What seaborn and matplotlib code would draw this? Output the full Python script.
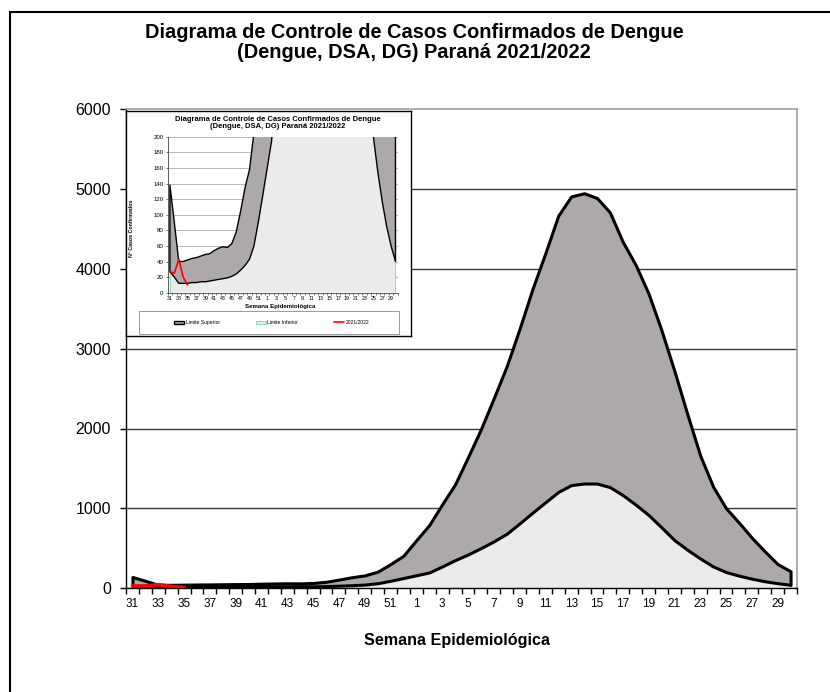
import numpy as np
import pandas as pd
import matplotlib.pyplot as plt
import seaborn as sns
from matplotlib.patches import Rectangle, Patch
from matplotlib.lines import Line2D

# Semanas epidemiologicas (31/2021 a 30/2022)
semanas = list(range(31, 53)) + list(range(1, 31))

limite_superior = [138, 90, 40, 40, 42, 44, 45, 47, 49, 50, 54, 57, 59, 58, 63, 78,
                   105, 135, 158, 205, 300, 405, 600, 790, 1050, 1300, 1640, 1990,
                   2380, 2780, 3250, 3750, 4200, 4670, 4910, 4950, 4890, 4710, 4340,
                   4050, 3690, 3230, 2720, 2180, 1660, 1270, 1000, 820, 630, 460, 300, 210]

limite_inferior = [27, 20, 12, 12, 12, 13, 13, 14, 14, 15, 16, 17, 18, 19, 21, 24,
                   29, 35, 43, 60, 91, 125, 160, 195, 270, 350, 420, 500, 585, 680,
                   810, 945, 1075, 1205, 1290, 1310, 1310, 1265, 1165, 1045, 915, 760,
                   600, 480, 370, 270, 200, 155, 117, 85, 60, 40]

casos_2021_2022 = [27, 25, 43, 20, 10]

titulo = "Diagrama de Controle de Casos Confirmados de Dengue\n(Dengue, DSA, DG) Paraná 2021/2022"

df = pd.DataFrame({'pos': np.arange(len(semanas)), 'semana': semanas,
                   'sup': limite_superior, 'inf': limite_inferior})
df_casos = pd.DataFrame({'pos': np.arange(len(casos_2021_2022)), 'casos': casos_2021_2022})

sns.set_theme(style='white')
plt.rcParams['font.family'] = ['Liberation Sans', 'DejaVu Sans']
plt.rcParams['text.color'] = 'black'
plt.rcParams['xtick.color'] = 'black'
plt.rcParams['ytick.color'] = 'black'
plt.rcParams['axes.labelcolor'] = 'black'

CINZA_ESCURO = '#ADA9A9'
CINZA_CLARO = '#EBEBEB'
VERDE = '#7FD6A6'


def desenha(ax, lw, lw_red):
    ax.fill_between(df['pos'], 0, df['inf'], facecolor=CINZA_CLARO, edgecolor='none',
                    zorder=2)
    # bordas verticais do limite inferior
    extremos = df.iloc[[0, -1]]
    ax.vlines(extremos['pos'], 0, extremos['inf'], color=VERDE, linewidth=lw * 0.6, zorder=2.5)
    ax.fill_between(df['pos'], df['inf'], df['sup'], facecolor=CINZA_ESCURO,
                    edgecolor='black', linewidth=lw, joinstyle='round', zorder=3)
    sns.lineplot(data=df_casos, x='pos', y='casos', color='red', linewidth=lw_red,
                 ax=ax, zorder=4)
    ax.set_xlabel('')
    ax.set_ylabel('')
    ax.set_xlim(-0.5, len(semanas) - 0.5)
    ax.set_xticks(np.arange(-0.5, len(semanas), 1))
    ax.set_xticks(df['pos'][::2], minor=True)
    ax.set_xticklabels(df['semana'][::2], minor=True)


fig = plt.figure(figsize=(8.3, 6.92), dpi=100)

# grafico principal
ax = fig.add_axes([126 / 830, 1 - 588 / 692, 671 / 830, 478.5 / 692])
desenha(ax, 2.2, 2.6)
ax.set_ylim(0, 6000)
ax.set_yticks(range(0, 7000, 1000))
ax.tick_params(axis='x', which='major', direction='out', length=4.3, width=1,
               color='black', labelbottom=False, bottom=True)
ax.tick_params(axis='x', which='minor', length=0, labelsize=8.5, pad=7, bottom=True)
ax.tick_params(axis='y', direction='out', length=4.3, width=1, color='black',
               labelsize=11.5, pad=6.5, left=True)
ax.set_axisbelow(True)
ax.yaxis.grid(True, color='#3a3a3a', linewidth=1.0)
ax.get_ygridlines()[-1].set_visible(False)
ax.xaxis.grid(False)
for lado in ['left', 'bottom']:
    ax.spines[lado].set_color('black')
    ax.spines[lado].set_linewidth(1)
for lado in ['top', 'right']:
    ax.spines[lado].set_color('#A0A0A0')
    ax.spines[lado].set_linewidth(1.2)

fig.text(414 / 830, 1 - 42.5 / 692, titulo, ha='center', va='center', fontsize=14.4,
         weight='bold', linespacing=1.0)
fig.text(457 / 830, 1 - 641 / 692, 'Semana Epidemiológica', ha='center', va='center',
         fontsize=11.6, weight='bold')

# moldura da figura
fig.add_artist(Rectangle((10 / 830, -0.05), 1.1, 1 - 12 / 692 + 0.05,
                         transform=fig.transFigure, fill=False, edgecolor='black',
                         linewidth=1.5, clip_on=False))

# grafico menor (zoom de 0 a 200)
ax_box = fig.add_axes([126 / 830, 1 - 336 / 692, 285 / 830, 225 / 692], zorder=5)
ax_box.set_facecolor('white')
ax_box.set_xticks([])
ax_box.set_yticks([])
for s in ax_box.spines.values():
    s.set_color('black')
    s.set_linewidth(1)

ax_in = fig.add_axes([167.7 / 830, 1 - 292.7 / 692, 230 / 830, 156 / 692], zorder=6)
desenha(ax_in, 1.0, 1.2)
ax_in.set_ylim(0, 200)
ax_in.set_yticks(range(0, 201, 20))
ax_in.tick_params(axis='x', which='major', direction='out', length=1.5, width=0.5,
                  color='#444', labelbottom=False, bottom=True)
ax_in.tick_params(axis='x', which='minor', length=0, labelsize=3.8, pad=2.5, bottom=True)
ax_in.tick_params(axis='y', direction='out', length=1.5, width=0.5, color='#444',
                  labelsize=4.4, pad=1.5, left=True)
ax_in.set_axisbelow(True)
ax_in.yaxis.grid(True, color='#9a9a9a', linewidth=0.5)
ax_in.xaxis.grid(False)
ax_in.spines['top'].set_visible(False)
ax_in.spines['right'].set_visible(False)
ax_in.spines['left'].set_linewidth(0.6)
ax_in.spines['bottom'].set_linewidth(0.6)
ax_in.spines['left'].set_color('#444')
ax_in.spines['bottom'].set_color('#444')

fig.text(277.5 / 830, 1 - 123 / 692, titulo, ha='center', va='center', fontsize=5.5,
         weight='bold', linespacing=1.05, zorder=10)
fig.text(280 / 830, 1 - 306.5 / 692, 'Semana Epidemiológica', ha='center', va='center',
         fontsize=4.4, weight='bold', zorder=10)
fig.text(131.7 / 830, 1 - 228 / 692, 'Nº Casos Confirmados', ha='center', va='center',
         rotation=90, fontsize=3.8, weight='bold', zorder=10)

# legenda do grafico menor
fig.add_artist(Rectangle((139.3 / 830, 1 - 334.3 / 692), 260 / 830, 23.3 / 692,
                         transform=fig.transFigure, fill=False, edgecolor='#999999',
                         linewidth=0.7, zorder=9))
handles = [Patch(facecolor=CINZA_ESCURO, edgecolor='black', linewidth=1.0),
           Patch(facecolor=CINZA_CLARO, edgecolor=VERDE, linewidth=0.6),
           Line2D([0], [0], color='red', linewidth=1.2)]
leg = fig.legend(handles, ['Limite Superior', 'Limite Inferior', '2021/2022'],
                 loc='center left', bbox_to_anchor=(174 / 830, 1 - 322.5 / 692),
                 ncol=3, fontsize=3.6, frameon=False, borderaxespad=0, borderpad=0,
                 handlelength=2.0, handleheight=0.6, handletextpad=0.3,
                 columnspacing=7.2)
leg.set_zorder(10)

fig.savefig('out.png', dpi=100)
